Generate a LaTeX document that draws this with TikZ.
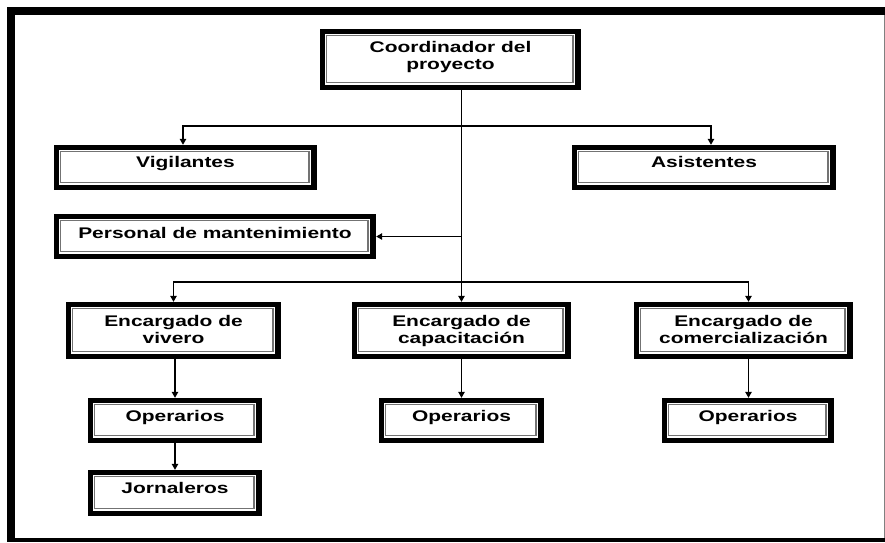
\documentclass[tikz,border=0pt]{standalone}
\usepackage{fontspec}
\setmainfont{Liberation Sans}[FakeStretch=1.36]
\usetikzlibrary{arrows.meta,fit}
\tikzset{
  innerline/.style={draw=black!55, line width=1.2pt},
  boxarea/.style={inner sep=0pt},
  lbl/.style={inner sep=0pt, align=center, font=\fontsize{15.4}{17}\selectfont\bfseries, text=black},
  arr/.style={-{Triangle[length=6pt,width=6.5pt]}, line width=1.2pt},
}
\newcommand{\orgbox}[7]{%
  \fill[black] (#2,#3) rectangle (#4,#5);
  \fill[white] ({#2+4.5},{#3+4.5}) rectangle ({#4-6},{#5-5.5});
  \draw[innerline] ({#2+6.5},{#3+6.5}) rectangle ({#4-8},{#5-7.5});
  \node[boxarea, fit={(#2,#3) (#4,#5)}] (#1) {};
  \node[lbl, anchor=north] (#1-t) at ({(#2+#4)/2},#6) {#7};
}
\begin{document}
\begin{tikzpicture}[x=1pt,y=-1pt]
\useasboundingbox (0,0) rectangle (885,542);
% frame
\fill[white] (0,0) rectangle (885,542);
\fill[black] (7,7) rectangle (15,542);
\fill[black] (7,7) rectangle (885,15);
\fill[black] (7,538) rectangle (885,542);
\draw[black!50, line width=1pt] (884,15) -- (884,538);
% boxes
\orgbox{coord}{320}{29}{581}{90}{41}{Coordinador del\\proyecto}
\orgbox{vig}{54}{145}{317}{190}{156}{Vigilantes}
\orgbox{asis}{572}{145}{836}{190}{156}{Asistentes}
\orgbox{pers}{54}{214}{376}{259}{227}{Personal de mantenimiento}
\orgbox{viv}{66}{302}{281}{359}{315}{Encargado de\\vivero}
\orgbox{cap}{352}{302}{571}{359}{315}{Encargado de\\capacitación}
\orgbox{com}{634}{302}{853}{359}{315}{Encargado de\\comercialización}
\orgbox{opa}{88}{398}{262}{443}{410}{Operarios}
\orgbox{opb}{379}{398}{544}{443}{410}{Operarios}
\orgbox{opc}{662}{398}{834}{443}{410}{Operarios}
\orgbox{jor}{88}{470}{262}{516}{482}{Jornaleros}
% junctions
\coordinate (j1) at (461.5,126);
\coordinate (j3) at (461.5,236.5);
\coordinate (j2) at (461.5,282);
% connectors
\draw[arr] (coord.south -| cap.north) -- (cap.north);
\draw[arr] (j1) -| ([xshift=-2.5pt]vig.north);
\draw[arr] (j1) -| ([xshift=7pt]asis.north);
\draw[arr] (j3) -- (pers.east);
\draw[arr] (j2) -| (viv.north);
\draw[arr] (j2) -| ([xshift=5pt]com.north);
\draw[arr] (opa.north |- viv.south) -- (opa.north);
\draw[arr] (opa.south) -- (jor.north);
\draw[arr] (cap.south) -- (opb.north);
\draw[arr] ([xshift=5pt]com.south) -- ([xshift=5pt]com.south |- opc.north);
\end{tikzpicture}
\end{document}
